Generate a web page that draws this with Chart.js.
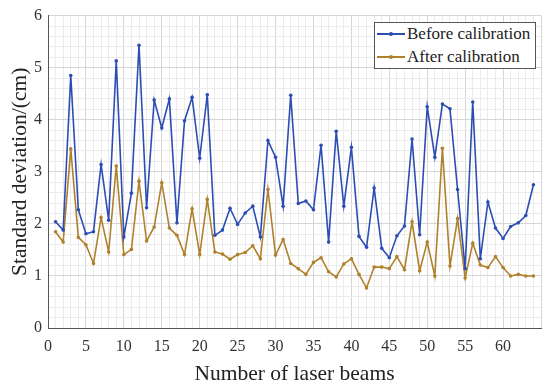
<!DOCTYPE html>
<html>
<head>
<meta charset="utf-8">
<script src="https://cdn.jsdelivr.net/npm/chart.js@4/dist/chart.umd.min.js"></script>
<style>
  html, body { margin: 0; padding: 0; background: #ffffff; }
  #wrap { position: relative; width: 550px; height: 388px; }
  #legend {
    position: absolute; left: 374px; top: 22px; width: 162px; height: 47px;
    border: 1px solid #555; background: #fff; box-sizing: border-box;
    font-family: "Liberation Serif", "DejaVu Serif", serif; font-size: 17px; color: #222;
  }
  .row { position: absolute; left: 2px; height: 22px; line-height: 22px; white-space: nowrap; }
  .sample { display: inline-block; position: relative; width: 28px; height: 22px; vertical-align: top; margin-right: 2px; }
  .sample .ln { position: absolute; left: 0; top: 10px; width: 28px; height: 2px; }
  .sample .dt { position: absolute; left: 12px; top: 9px; width: 4px; height: 4px; border-radius: 2px; }
</style>
</head>
<body>
<div id="wrap">
  <canvas id="c" width="550" height="388"></canvas>
  <div id="legend">
    <div class="row" style="top:0px"><span class="sample"><span class="ln" style="background:#2c4db3"></span><span class="dt" style="background:#2c4db3"></span></span>Before calibration</div>
    <div class="row" style="top:23px"><span class="sample"><span class="ln" style="background:#b0812c"></span><span class="dt" style="background:#b0812c"></span></span>After calibration</div>
  </div>
</div>
<script>
const beams = [1,2,3,4,5,6,7,8,9,10,11,12,13,14,15,16,17,18,19,20,21,22,23,24,25,26,27,28,29,30,31,32,
  33,34,35,36,37,38,39,40,41,42,43,44,45,46,47,48,49,50,51,52,53,54,55,56,57,58,59,60,61,62,63,64];
const beforeCal = [2.04,1.88,4.85,2.27,1.81,1.85,3.14,2.07,5.13,1.75,2.59,5.43,2.31,4.38,3.84,4.40,
  2.02,3.98,4.43,3.26,4.48,1.78,1.88,2.30,1.99,2.21,2.34,1.75,3.60,3.28,2.34,4.47,
  2.39,2.44,2.27,3.51,1.65,3.78,2.34,3.47,1.76,1.55,2.69,1.53,1.35,1.77,1.96,3.63,
  1.79,4.25,3.28,4.30,4.21,2.66,1.14,4.34,1.33,2.42,1.92,1.72,1.95,2.02,2.16,2.75];
const afterCal = [1.85,1.65,3.44,1.74,1.60,1.24,2.12,1.46,3.11,1.41,1.51,2.82,1.67,1.94,2.79,1.92,
  1.78,1.41,2.29,1.41,2.47,1.46,1.42,1.32,1.41,1.45,1.58,1.33,2.66,1.40,1.70,1.24,
  1.14,1.03,1.26,1.35,1.08,0.98,1.23,1.33,1.03,0.77,1.17,1.17,1.14,1.37,1.12,2.04,
  1.10,1.65,1.00,3.45,1.19,2.10,0.96,1.63,1.21,1.16,1.37,1.16,1.00,1.03,1.00,1.00];
const seriesNames = ['Before calibration', 'After calibration'];
const xTickLabels = [0,5,10,15,20,25,30,35,40,45,50,55,60];
const yTickLabels = [0,1,2,3,4,5,6];

const blue = '#2c4db3';
const brown = '#b0812c';
const serif = '"Liberation Serif", "DejaVu Serif", serif';

function isMajorY(v){ return Math.abs(v - Math.round(v)) < 1e-6; }

new Chart(document.getElementById('c'), {
  type: 'line',
  data: {
    datasets: [
      { label: seriesNames[0], data: beams.map((b,i)=>({x:b, y:beforeCal[i]})),
        borderColor: blue, backgroundColor: blue, borderWidth: 1.6, pointRadius: 1.8,
        pointBorderWidth: 0, pointBackgroundColor: blue, tension: 0 },
      { label: seriesNames[1], data: beams.map((b,i)=>({x:b, y:afterCal[i]})),
        borderColor: brown, backgroundColor: brown, borderWidth: 1.6, pointRadius: 1.8,
        pointBorderWidth: 0, pointBackgroundColor: brown, tension: 0 }
    ]
  },
  options: {
    responsive: false,
    animation: false,
    layout: { padding: { left: 0, top: 15, right: 7, bottom: 0 } },
    plugins: { legend: { display: false }, tooltip: { enabled: false } },
    scales: {
      x: {
        type: 'linear', min: 0, max: 65,
        afterFit: s => { s.height = 60; },
        afterBuildTicks: s => { s.ticks = Array.from({length: 66}, (_, k) => ({value: k})); },
        ticks: {
          autoSkip: false, maxRotation: 0, padding: 9, color: '#333',
          font: { family: serif, size: 16 },
          callback: v => xTickLabels.includes(v) ? String(v) : ''
        },
        grid: {
          drawTicks: false,
          color: ctx => (ctx.tick && ctx.tick.value % 5 === 0) ? '#d6d6d6' : '#ececec',
          lineWidth: 1
        },
        border: { display: true, color: '#555', width: 1 },
        title: { display: true, text: 'Number of laser beams', color: '#222',
                 font: { family: serif, size: 21.5 }, padding: { top: 0, bottom: 1 } }
      },
      y: {
        type: 'linear', min: 0, max: 6,
        afterFit: s => { s.width = 48; },
        afterBuildTicks: s => { s.ticks = Array.from({length: 31}, (_, k) => ({value: Math.round(k*2)/10})); },
        ticks: {
          autoSkip: false, padding: 6, color: '#333',
          font: { family: serif, size: 16 },
          callback: v => (isMajorY(v) && yTickLabels.includes(Math.round(v))) ? String(Math.round(v)) : ''
        },
        grid: {
          drawTicks: false,
          color: ctx => (ctx.tick && isMajorY(ctx.tick.value)) ? '#d6d6d6' : '#ececec',
          lineWidth: 1
        },
        border: { display: true, color: '#555', width: 1 },
        title: { display: true, text: 'Standard deviation/(cm)', color: '#222',
                 font: { family: serif, size: 21.5 }, padding: { top: 7, bottom: 0 } }
      }
    }
  }
});
</script>
</body>
</html>
